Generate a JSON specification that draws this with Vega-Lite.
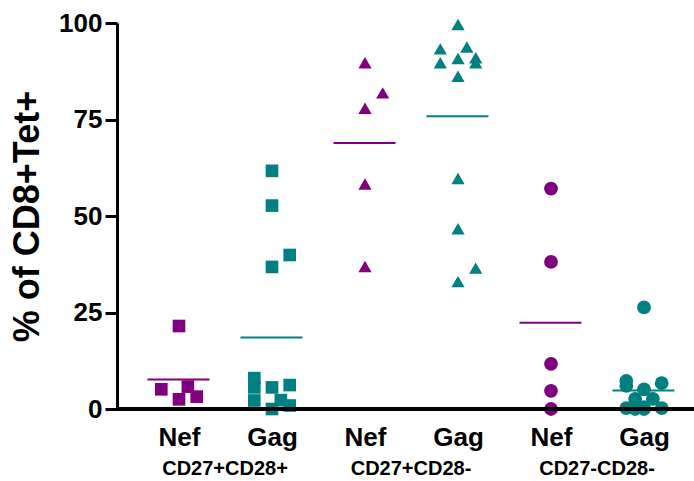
{
  "$schema": "https://vega.github.io/schema/vega-lite/v6.json",
  "width": 577,
  "height": 386,
  "autosize": {"type": "none"},
  "padding": {"left": 117, "top": 23, "right": 0, "bottom": 72},
  "background": "white",
  "config": {
    "view": {"stroke": null},
    "font": "Liberation Sans",
    "axis": {"labelColor": "black", "titleColor": "black", "labelFont": "Liberation Sans", "titleFont": "Liberation Sans", "grid": false}
  },
  "data": {
    "values": [
      {"set": "CD27+CD28+", "ag": "Nef", "v": 21.5, "lane": 0},
      {"set": "CD27+CD28+", "ag": "Nef", "v": 5.1, "lane": -2},
      {"set": "CD27+CD28+", "ag": "Nef", "v": 5.8, "lane": 1},
      {"set": "CD27+CD28+", "ag": "Nef", "v": 2.5, "lane": 0},
      {"set": "CD27+CD28+", "ag": "Nef", "v": 3.2, "lane": 2},

      {"set": "CD27+CD28+", "ag": "Gag", "v": 61.7, "lane": 0},
      {"set": "CD27+CD28+", "ag": "Gag", "v": 52.7, "lane": 0},
      {"set": "CD27+CD28+", "ag": "Gag", "v": 36.8, "lane": 0},
      {"set": "CD27+CD28+", "ag": "Gag", "v": 39.9, "lane": 2},
      {"set": "CD27+CD28+", "ag": "Gag", "v": 8.0, "lane": -2},
      {"set": "CD27+CD28+", "ag": "Gag", "v": 5.6, "lane": -2},
      {"set": "CD27+CD28+", "ag": "Gag", "v": 5.6, "lane": 0},
      {"set": "CD27+CD28+", "ag": "Gag", "v": 6.2, "lane": 2},
      {"set": "CD27+CD28+", "ag": "Gag", "v": 2.2, "lane": -2},
      {"set": "CD27+CD28+", "ag": "Gag", "v": 2.3, "lane": 1},
      {"set": "CD27+CD28+", "ag": "Gag", "v": 0.9, "lane": 2},
      {"set": "CD27+CD28+", "ag": "Gag", "v": 0.0, "lane": 0},

      {"set": "CD27+CD28-", "ag": "Nef", "v": 89.7, "lane": 0},
      {"set": "CD27+CD28-", "ag": "Nef", "v": 81.9, "lane": 2},
      {"set": "CD27+CD28-", "ag": "Nef", "v": 77.9, "lane": 0},
      {"set": "CD27+CD28-", "ag": "Nef", "v": 58.3, "lane": 0},
      {"set": "CD27+CD28-", "ag": "Nef", "v": 36.9, "lane": 0},

      {"set": "CD27+CD28-", "ag": "Gag", "v": 99.6, "lane": 0},
      {"set": "CD27+CD28-", "ag": "Gag", "v": 93.3, "lane": -2},
      {"set": "CD27+CD28-", "ag": "Gag", "v": 93.8, "lane": 1},
      {"set": "CD27+CD28-", "ag": "Gag", "v": 89.7, "lane": -2},
      {"set": "CD27+CD28-", "ag": "Gag", "v": 90.8, "lane": 0},
      {"set": "CD27+CD28-", "ag": "Gag", "v": 91.0, "lane": 2},
      {"set": "CD27+CD28-", "ag": "Gag", "v": 89.7, "lane": 2},
      {"set": "CD27+CD28-", "ag": "Gag", "v": 86.2, "lane": 0},
      {"set": "CD27+CD28-", "ag": "Gag", "v": 59.7, "lane": 0},
      {"set": "CD27+CD28-", "ag": "Gag", "v": 46.7, "lane": 0},
      {"set": "CD27+CD28-", "ag": "Gag", "v": 36.5, "lane": 2},
      {"set": "CD27+CD28-", "ag": "Gag", "v": 33.0, "lane": 0},

      {"set": "CD27-CD28-", "ag": "Nef", "v": 57.1, "lane": 0},
      {"set": "CD27-CD28-", "ag": "Nef", "v": 38.1, "lane": 0},
      {"set": "CD27-CD28-", "ag": "Nef", "v": 11.7, "lane": 0},
      {"set": "CD27-CD28-", "ag": "Nef", "v": 4.7, "lane": 0},
      {"set": "CD27-CD28-", "ag": "Nef", "v": 0.0, "lane": 0},

      {"set": "CD27-CD28-", "ag": "Gag", "v": 26.3, "lane": 0},
      {"set": "CD27-CD28-", "ag": "Gag", "v": 7.3, "lane": -2},
      {"set": "CD27-CD28-", "ag": "Gag", "v": 6.0, "lane": -2},
      {"set": "CD27-CD28-", "ag": "Gag", "v": 6.7, "lane": 2},
      {"set": "CD27-CD28-", "ag": "Gag", "v": 5.1, "lane": 0},
      {"set": "CD27-CD28-", "ag": "Gag", "v": 2.6, "lane": -1},
      {"set": "CD27-CD28-", "ag": "Gag", "v": 2.6, "lane": 1},
      {"set": "CD27-CD28-", "ag": "Gag", "v": 0.5, "lane": 0},
      {"set": "CD27-CD28-", "ag": "Gag", "v": 0.2, "lane": -2},
      {"set": "CD27-CD28-", "ag": "Gag", "v": 0.0, "lane": 0},
      {"set": "CD27-CD28-", "ag": "Gag", "v": 0.2, "lane": 2},
      {"set": "CD27-CD28-", "ag": "Gag", "v": 0.0, "lane": -1}
    ]
  },
  "layer": [
    {
      "mark": {"type": "tick", "orient": "horizontal", "size": 62, "thickness": 2},
      "encoding": {
        "x": {
          "field": "set",
          "type": "nominal",
          "scale": {"type": "band", "domain": ["CD27+CD28+", "CD27+CD28-", "CD27-CD28-"], "range": [15, 573], "paddingInner": 0, "paddingOuter": 0},
          "axis": {"orient": "bottom", "title": null, "domain": false, "ticks": false, "tickSize": 0, "labelAngle": 0, "labelPadding": 49, "labelFontSize": 20, "labelFontWeight": "bold"}
        },
        "xOffset": {
          "field": "ag",
          "type": "nominal",
          "scale": {"type": "point", "domain": ["Nef", "Gag"], "range": [46.5, 139.5], "padding": 0}
        },
        "y": {
          "aggregate": "mean", "field": "v", "type": "quantitative",
          "scale": {"domain": [0, 100], "nice": false},
          "axis": {
            "values": [0, 25, 50, 75, 100],
            "domainColor": "black", "domainWidth": 3,
            "tickColor": "black", "tickWidth": 3, "tickSize": 12,
            "labelFontSize": 26, "labelFontWeight": "bold", "labelPadding": 3,
            "title": "% of CD8+Tet+", "titleFontSize": 36, "titleFontWeight": "bold", "titlePadding": 12
          }
        },
        "color": {"field": "ag", "type": "nominal", "scale": {"domain": ["Nef", "Gag"], "range": ["#800080", "#008080"]}, "legend": null}
      }
    },
    {
      "transform": [{"calculate": "datum.set + '|' + datum.ag", "as": "col"}],
      "mark": {"type": "point", "filled": true, "opacity": 1},
      "encoding": {
        "x": {
          "field": "col",
          "type": "nominal",
          "scale": {"type": "point", "domain": ["CD27+CD28+|Nef", "CD27+CD28+|Gag", "CD27+CD28-|Nef", "CD27+CD28-|Gag", "CD27-CD28-|Nef", "CD27-CD28-|Gag"], "range": [62, 527], "padding": 0},
          "axis": {"orient": "bottom", "title": null, "domain": false, "ticks": false, "tickSize": 0, "labelAngle": 0, "labelPadding": 15, "labelFontSize": 26, "labelFontWeight": "bold", "labelExpr": "split(datum.label, '|')[1]"}
        },
        "xOffset": {
          "field": "lane",
          "type": "ordinal",
          "scale": {"type": "point", "domain": [-2, -1, 0, 1, 2], "range": [-17.7, 17.7], "padding": 0}
        },
        "y": {
          "field": "v", "type": "quantitative",
          "scale": {"domain": [0, 100], "nice": false},
          "axis": {
            "values": [0, 25, 50, 75, 100],
            "domainColor": "black", "domainWidth": 3,
            "tickColor": "black", "tickWidth": 3, "tickSize": 12,
            "labelFontSize": 26, "labelFontWeight": "bold", "labelPadding": 3,
            "title": "% of CD8+Tet+", "titleFontSize": 36, "titleFontWeight": "bold", "titlePadding": 12
          }
        },
        "shape": {"field": "set", "type": "nominal", "scale": {"domain": ["CD27+CD28+", "CD27+CD28-", "CD27-CD28-"], "range": ["square", "triangle-up", "circle"]}, "legend": null},
        "size": {"field": "set", "type": "nominal", "scale": {"domain": ["CD27+CD28+", "CD27+CD28-", "CD27-CD28-"], "range": [160, 190, 130]}, "legend": null},
        "color": {"field": "ag", "type": "nominal", "scale": {"domain": ["Nef", "Gag"], "range": ["#800080", "#008080"]}, "legend": null}
      }
    },
    {
      "mark": {"type": "rule", "color": "black", "strokeWidth": 3},
      "encoding": {"y": {"datum": 0}}
    }
  ],
  "resolve": {"scale": {"x": "independent", "xOffset": "independent"}, "axis": {"x": "independent"}}
}
